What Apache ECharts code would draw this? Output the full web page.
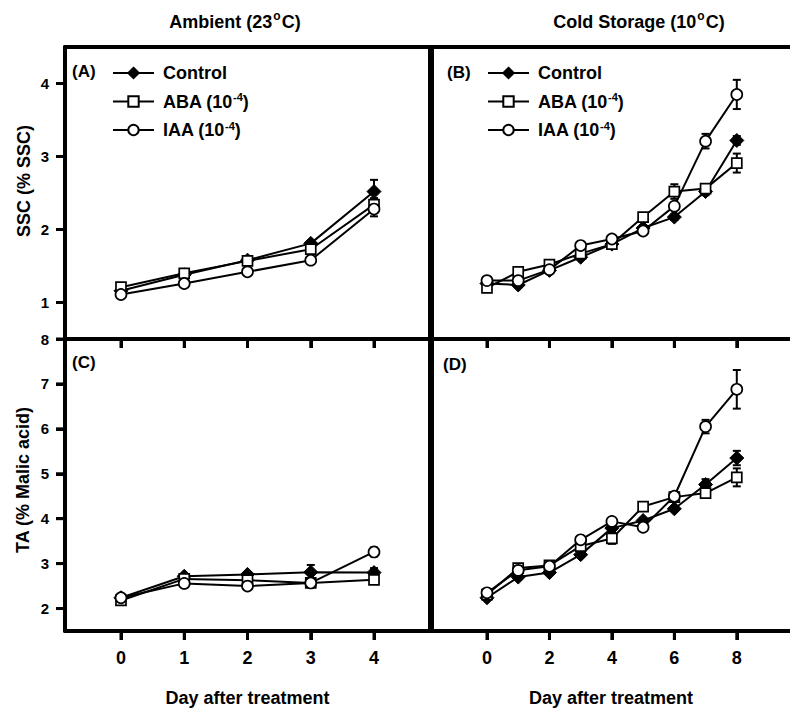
<!DOCTYPE html>
<html>
<head>
<meta charset="utf-8">
<script src="https://cdn.jsdelivr.net/npm/echarts@6/dist/echarts.min.js"></script>
<style>html,body{margin:0;padding:0;background:#fff;}#c{width:790px;height:709px;}</style>
</head>
<body>
<div id="c"></div>
<script>
// ---- data ----
const ambientDays = [0, 1, 2, 3, 4];
const coldDays = [0, 1, 2, 3, 4, 5, 6, 7, 8];
const ambientTicks = [0, 1, 2, 3, 4];
const coldTicks = [0, 2, 4, 6, 8];
const sscTicks = [1, 2, 3, 4];
const taTicks = [2, 3, 4, 5, 6, 7, 8];
const seriesNames = ['Control', 'ABA', 'IAA'];

// SSC, ambient (A)
const sscAmbControl = [1.16, 1.38, 1.58, 1.81, 2.52];
const sscAmbABA     = [1.21, 1.40, 1.57, 1.73, 2.34];
const sscAmbIAA     = [1.11, 1.26, 1.42, 1.58, 2.28];
const sscAmbControlErr = [0.03, 0.03, 0.03, 0.03, 0.16];
const sscAmbABAErr     = [0.03, 0.03, 0.03, 0.03, 0.09];
const sscAmbIAAErr     = [0.03, 0.03, 0.03, 0.03, 0.10];

// SSC, cold (B)
const sscColdControl = [1.26, 1.24, 1.44, 1.62, 1.80, 2.02, 2.17, 2.52, 3.22];
const sscColdABA     = [1.20, 1.42, 1.52, 1.67, 1.80, 2.17, 2.52, 2.56, 2.91];
const sscColdIAA     = [1.30, 1.30, 1.45, 1.78, 1.87, 1.98, 2.32, 3.21, 3.85];
const sscColdControlErr = [0.02, 0.02, 0.03, 0.03, 0.03, 0.04, 0.04, 0.05, 0.06];
const sscColdABAErr     = [0.03, 0.03, 0.03, 0.03, 0.03, 0.05, 0.10, 0.04, 0.13];
const sscColdIAAErr     = [0.03, 0.03, 0.03, 0.03, 0.03, 0.03, 0.05, 0.10, 0.20];

// TA, ambient (C)
const taAmbControl = [2.24, 2.72, 2.76, 2.81, 2.80];
const taAmbABA     = [2.18, 2.66, 2.63, 2.57, 2.64];
const taAmbIAA     = [2.24, 2.56, 2.50, 2.57, 3.26];
const taAmbControlErr = [0.05, 0.05, 0.05, 0.16, 0.10];
const taAmbABAErr     = [0.05, 0.05, 0.05, 0.05, 0.06];
const taAmbIAAErr     = [0.05, 0.05, 0.07, 0.05, 0.10];

// TA, cold (D)
const taColdControl = [2.24, 2.70, 2.80, 3.20, 3.79, 3.96, 4.22, 4.76, 5.35];
const taColdABA     = [2.31, 2.90, 2.96, 3.39, 3.56, 4.27, 4.48, 4.57, 4.92];
const taColdIAA     = [2.35, 2.85, 2.94, 3.53, 3.94, 3.81, 4.50, 6.05, 6.88];
const taColdControlErr = [0.05, 0.05, 0.05, 0.05, 0.10, 0.05, 0.05, 0.12, 0.16];
const taColdABAErr     = [0.05, 0.08, 0.05, 0.05, 0.12, 0.05, 0.05, 0.05, 0.20];
const taColdIAAErr     = [0.05, 0.05, 0.05, 0.05, 0.05, 0.05, 0.05, 0.15, 0.43];

// ---- chart ----
const FONT = '"Liberation Sans", Arial, Helvetica, sans-serif';
const chart = echarts.init(document.getElementById('c'), null, {renderer: 'svg'});

// axis ranges (layout)
const AMB_X = [-0.885, 4.885];
const COLD_X = [-1.761, 9.704];
const SSC_Y = [0.5, 4.5];
const TA_Y = [1.5, 8];

const styles = {
  Control: {symbol: 'diamond', symbolSize: 14, itemStyle: {color: '#000', borderColor: '#000', borderWidth: 1}},
  ABA: {symbol: 'rect', symbolSize: 10, itemStyle: {color: '#fff', borderColor: '#000', borderWidth: 1.7}},
  IAA: {symbol: 'circle', symbolSize: 11, itemStyle: {color: '#fff', borderColor: '#000', borderWidth: 1.7}}
};

function errRender(params, api) {
  const x = api.value(0), y = api.value(1), e = api.value(2);
  const t = api.coord([x, y + e]);
  const b = api.coord([x, y - e]);
  const hw = 4;
  const st = {stroke: '#000', lineWidth: 2};
  return {type: 'group', children: [
    {type: 'line', shape: {x1: t[0], y1: t[1], x2: b[0], y2: b[1]}, style: st},
    {type: 'line', shape: {x1: t[0] - hw, y1: t[1], x2: t[0] + hw, y2: t[1]}, style: st},
    {type: 'line', shape: {x1: b[0] - hw, y1: b[1], x2: b[0] + hw, y2: b[1]}, style: st}
  ]};
}
// outward tick marks positioned through the axis scales
function xTickRender(params, api) {
  const p = api.coord([api.value(0), api.value(1)]);
  return {type: 'line', shape: {x1: p[0], y1: p[1], x2: p[0], y2: p[1] + 9}, style: {stroke: '#000', lineWidth: 3}};
}
function yTickRender(params, api) {
  const p = api.coord([api.value(0), api.value(1)]);
  return {type: 'line', shape: {x1: p[0] - 9, y1: p[1], x2: p[0], y2: p[1]}, style: {stroke: '#000', lineWidth: 3}};
}

const panels = [
  {days: ambientDays, xr: AMB_X, yr: SSC_Y, xt: ambientTicks, yt: sscTicks, sets: [[sscAmbControl, sscAmbControlErr], [sscAmbABA, sscAmbABAErr], [sscAmbIAA, sscAmbIAAErr]]},
  {days: coldDays, xr: COLD_X, yr: SSC_Y, xt: coldTicks, yt: null, sets: [[sscColdControl, sscColdControlErr], [sscColdABA, sscColdABAErr], [sscColdIAA, sscColdIAAErr]]},
  {days: ambientDays, xr: AMB_X, yr: TA_Y, xt: ambientTicks, yt: taTicks, sets: [[taAmbControl, taAmbControlErr], [taAmbABA, taAmbABAErr], [taAmbIAA, taAmbIAAErr]]},
  {days: coldDays, xr: COLD_X, yr: TA_Y, xt: coldTicks, yt: null, sets: [[taColdControl, taColdControlErr], [taColdABA, taColdABAErr], [taColdIAA, taColdIAAErr]]}
];

const series = [];
panels.forEach((p, gi) => {
  p.sets.forEach((s) => {
    series.push({
      type: 'custom', xAxisIndex: gi, yAxisIndex: gi, z: 3, silent: true,
      renderItem: errRender,
      encode: {x: 0, y: 1},
      data: p.days.map((d, i) => [d, s[0][i], s[1][i]])
    });
  });
  p.sets.forEach((s, si) => {
    const nm = seriesNames[si];
    series.push(Object.assign({
      type: 'line', name: nm, xAxisIndex: gi, yAxisIndex: gi, z: 4 + si,
      showAllSymbol: true,
      lineStyle: {color: '#000', width: 2},
      data: p.days.map((d, i) => [d, s[0][i]])
    }, JSON.parse(JSON.stringify(styles[nm]))));
  });
  series.push({
    type: 'custom', xAxisIndex: gi, yAxisIndex: gi, z: 10, silent: true, clip: false,
    renderItem: xTickRender, encode: {x: 0, y: 1},
    data: p.xt.map(v => [v, p.yr[0]])
  });
  if (p.yt) {
    series.push({
      type: 'custom', xAxisIndex: gi, yAxisIndex: gi, z: 10, silent: true, clip: false,
      renderItem: yTickRender, encode: {x: 0, y: 1},
      data: p.yt.map(v => [p.xr[0], v])
    });
  }
});

const grids = [
  {left: 65, top: 47, width: 365, height: 292},
  {left: 432, top: 47, width: 360, height: 292},
  {left: 65, top: 339, width: 365, height: 292},
  {left: 432, top: 339, width: 360, height: 292}
];

const axLine = {show: true, onZero: false, lineStyle: {color: '#000', width: 4}};
const tick = (vals) => ({show: true, length: 9, customValues: vals, lineStyle: {color: '#000', width: 3}});
const xLab = (vals, show) => ({show: show, customValues: vals, margin: 18, color: '#000', fontFamily: FONT, fontWeight: 'bold', fontSize: 18});
const yLab = (vals) => ({show: true, customValues: vals, margin: 16, color: '#000', fontFamily: FONT, fontWeight: 'bold', fontSize: 15});
const xName = {name: 'Day after treatment', nameLocation: 'middle', nameGap: 58,
  nameTextStyle: {color: '#000', fontFamily: FONT, fontWeight: 'bold', fontSize: 18}};
const noSplit = {show: false};
const frameAxis = {axisLine: axLine, axisTick: {show: false}, axisLabel: {show: false}, splitLine: noSplit};

const xAxes = [
  {gridIndex: 0, type: 'value', min: AMB_X[0], max: AMB_X[1], axisLine: axLine, splitLine: noSplit, axisTick: tick(ambientTicks), axisLabel: xLab(ambientTicks, false)},
  {gridIndex: 1, type: 'value', min: COLD_X[0], max: COLD_X[1], axisLine: axLine, splitLine: noSplit, axisTick: tick(coldTicks), axisLabel: xLab(coldTicks, false)},
  Object.assign({gridIndex: 2, type: 'value', min: AMB_X[0], max: AMB_X[1], axisLine: axLine, splitLine: noSplit, axisTick: tick(ambientTicks), axisLabel: xLab(ambientTicks, true)}, xName),
  Object.assign({gridIndex: 3, type: 'value', min: COLD_X[0], max: COLD_X[1], axisLine: axLine, splitLine: noSplit, axisTick: tick(coldTicks), axisLabel: xLab(coldTicks, true)}, xName),
  Object.assign({gridIndex: 0, type: 'value', position: 'top', min: AMB_X[0], max: AMB_X[1]}, frameAxis),
  Object.assign({gridIndex: 1, type: 'value', position: 'top', min: COLD_X[0], max: COLD_X[1]}, frameAxis)
];
const yAxes = [
  {gridIndex: 0, type: 'value', min: SSC_Y[0], max: SSC_Y[1], axisLine: axLine, splitLine: noSplit, axisTick: tick(sscTicks), axisLabel: yLab(sscTicks)},
  Object.assign({gridIndex: 1, type: 'value', min: SSC_Y[0], max: SSC_Y[1]}, frameAxis),
  {gridIndex: 2, type: 'value', min: TA_Y[0], max: TA_Y[1], axisLine: axLine, splitLine: noSplit, axisTick: tick(taTicks), axisLabel: yLab(taTicks)},
  Object.assign({gridIndex: 3, type: 'value', min: TA_Y[0], max: TA_Y[1]}, frameAxis),
  Object.assign({gridIndex: 0, type: 'value', position: 'right', min: SSC_Y[0], max: SSC_Y[1]}, frameAxis),
  Object.assign({gridIndex: 2, type: 'value', position: 'right', min: TA_Y[0], max: TA_Y[1]}, frameAxis)
];

const legendRich = {
  n: {fontFamily: FONT, fontWeight: 'bold', fontSize: 18, color: '#000'},
  s: {fontFamily: FONT, fontWeight: 'bold', fontSize: 11, color: '#000', padding: [0, 0, 9, 0]}
};
function legendFmt(name) {
  if (name === 'Control') return '{n|Control}';
  return '{n|' + name + ' (10}{s|-4}{n|)}';
}
const legendBase = {
  orient: 'vertical', data: seriesNames, itemWidth: 41, itemHeight: 13, itemGap: 9.5,
  selectedMode: false, formatter: legendFmt,
  textStyle: {rich: legendRich, padding: [0, 0, 0, 4]}
};
const legends = [
  Object.assign({left: 107, top: 59}, legendBase),
  Object.assign({left: 482, top: 59}, legendBase)
];

const txt = (text, x, y, size) => ({
  type: 'text', x: x, y: y, silent: true,
  style: {text: text, fill: '#000', font: 'bold ' + size + 'px ' + FONT, textAlign: 'left', textVerticalAlign: 'middle'}
});
const titleRich = {
  n: {fontFamily: FONT, fontWeight: 'bold', fontSize: 18, color: '#000'},
  s: {fontFamily: FONT, fontWeight: 'bold', fontSize: 12, color: '#000', padding: [0, 1, 12, 1]}
};

const graphics = [
  {type: 'text', x: 235, y: 22, silent: true, style: {text: '{n|Ambient (23}{s|o}{n|C)}', rich: titleRich, textAlign: 'center', textVerticalAlign: 'middle'}},
  {type: 'text', x: 639, y: 22, silent: true, style: {text: '{n|Cold Storage (10}{s|o}{n|C)}', rich: titleRich, textAlign: 'center', textVerticalAlign: 'middle'}},
  txt('(A)', 72, 71, 17),
  txt('(B)', 447, 72, 17),
  txt('(C)', 72, 362, 17),
  txt('(D)', 443, 364, 17),
  {type: 'text', x: 24, y: 181, rotation: Math.PI / 2, silent: true,
    style: {text: 'SSC (% SSC)', fill: '#000', font: 'bold 18px ' + FONT, textAlign: 'center', textVerticalAlign: 'middle'}},
  {type: 'text', x: 23, y: 480, rotation: Math.PI / 2, silent: true,
    style: {text: 'TA (% Malic acid)', fill: '#000', font: 'bold 18px ' + FONT, textAlign: 'center', textVerticalAlign: 'middle'}}
];

chart.setOption({
  animation: false,
  grid: grids,
  xAxis: xAxes,
  yAxis: yAxes,
  legend: legends,
  graphic: graphics,
  series: series
});
</script>
</body>
</html>
